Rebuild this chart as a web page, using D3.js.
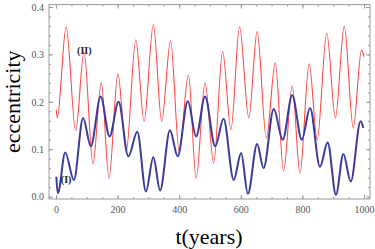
<!DOCTYPE html>
<html>
<head>
<meta charset="utf-8">
<script src="https://cdn.jsdelivr.net/npm/d3@7"></script>
<style>
  body { margin: 0; background: #fff; }
  svg { display: block; }
  .tick text { font-family: "Liberation Serif", "DejaVu Serif", serif; font-size: 10px; fill: #555; }
</style>
</head>
<body>
<svg id="chart" width="375" height="249"></svg>
<script>
// extrema: [t (years), eccentricity]
const seriesII = [
  [1, 0.183], [4, 0.166], [33, 0.358], [64, 0.139], [91, 0.306], [120, 0.069],
  [147, 0.24], [172, 0.039], [201, 0.259], [228, 0.095], [259, 0.331], [286, 0.159],
  [316, 0.363], [343, 0.159], [372, 0.328], [400, 0.095], [430, 0.257], [455, 0.039],
  [484, 0.24], [512, 0.071], [541, 0.306], [568, 0.141], [596, 0.358], [626, 0.166],
  [653, 0.348], [683, 0.123], [712, 0.282], [739, 0.053], [767, 0.234], [792, 0.049],
  [822, 0.28], [848, 0.12], [879, 0.345], [907, 0.166], [936, 0.359], [965, 0.145],
  [992, 0.309], [1000, 0.295]
];
const seriesI = [
  [1, 0.042], [6, 0.007], [30, 0.093], [58, 0.035], [88, 0.166], [113, 0.106],
  [145, 0.211], [174, 0.127], [203, 0.2], [235, 0.085], [264, 0.137], [292, 0.011],
  [316, 0.083], [338, 0.013], [370, 0.14], [395, 0.085], [428, 0.201], [455, 0.127],
  [484, 0.211], [517, 0.106], [544, 0.164], [577, 0.035], [601, 0.092], [623, 0.006],
  [653, 0.111], [674, 0.06], [707, 0.185], [736, 0.12], [767, 0.214], [798, 0.12],
  [825, 0.187], [857, 0.063], [882, 0.114], [909, 0.004], [933, 0.09], [957, 0.032],
  [989, 0.159], [998, 0.145]
];
const xTicks = [0, 200, 400, 600, 800, 1000];
const yTicks = [0.0, 0.1, 0.2, 0.3, 0.4];
const xMinor = d3.range(0, 1001, 50);
const yMinor = d3.range(0, 0.401, 0.02);

const svg = d3.select("#chart");
const pLeft = 49, pRight = 370, pTop = 4.6, pBottom = 199;

const x = d3.scaleLinear().domain([-22.7, 1019.5]).range([pLeft, pRight]);
const y = d3.scaleLinear().domain([-0.005, 0.405]).range([pBottom, pTop]);

// frame
svg.append("rect")
    .attr("x", pLeft).attr("y", pTop)
    .attr("width", pRight - pLeft).attr("height", pBottom - pTop)
    .attr("fill", "none").attr("stroke", "#999").attr("stroke-width", 1);

// ticks (inward, all four sides)
function ticks(axis, pos, vals, size, labels) {
  const g = svg.append("g").attr("transform", pos).call(axis.tickValues(vals).tickSize(size).tickSizeOuter(0));
  g.select(".domain").remove();
  g.selectAll(".tick line").attr("stroke", "#999");
  if (!labels) g.selectAll(".tick text").remove();
  return g;
}
const fmtY = d3.format(".1f");
const fmtX = d3.format("d");
ticks(d3.axisBottom(x), `translate(0,${pBottom})`, xMinor, -2, false);
ticks(d3.axisBottom(x).tickFormat(fmtX), `translate(0,${pBottom})`, xTicks, -4, true)
    .selectAll(".tick text").attr("dy", "1.05em");
ticks(d3.axisTop(x), `translate(0,${pTop})`, xMinor, -2, false);
ticks(d3.axisTop(x), `translate(0,${pTop})`, xTicks, -4, false);
ticks(d3.axisLeft(y), `translate(${pLeft},0)`, yMinor, -2, false);
ticks(d3.axisLeft(y).tickFormat(fmtY), `translate(${pLeft},0)`, yTicks, -4, true)
    .selectAll(".tick text").attr("x", -5);
ticks(d3.axisRight(y), `translate(${pRight},0)`, yMinor, -2, false);
ticks(d3.axisRight(y), `translate(${pRight},0)`, yTicks, -4, false);

const line = d3.line()
    .x(d => x(d[0]))
    .y(d => y(d[1]))
    .curve(d3.curveMonotoneX);

svg.append("path")
    .attr("d", line(seriesII))
    .attr("fill", "none").attr("stroke", "#ff4a4a").attr("stroke-width", 1.1);

svg.append("path")
    .attr("d", line(seriesI))
    .attr("fill", "none").attr("stroke", "#3b3b9c").attr("stroke-width", 2);

// curve labels
svg.append("text")
    .attr("x", x(92)).attr("y", y(0.3))
    .attr("text-anchor", "middle")
    .attr("font-family", "Liberation Serif, serif").attr("font-size", 10).attr("font-weight", "bold")
    .attr("fill", "#222")
    .text("(II)");
svg.append("text")
    .attr("x", x(33)).attr("y", y(0.028))
    .attr("text-anchor", "middle")
    .attr("font-family", "Liberation Serif, serif").attr("font-size", 10).attr("font-weight", "bold")
    .attr("fill", "#222")
    .text("(I)");

// axis titles
svg.append("text")
    .attr("transform", `translate(20,${(pTop + pBottom) / 2}) rotate(-90)`)
    .attr("text-anchor", "middle")
    .attr("font-family", "Liberation Serif, serif").attr("font-size", 22)
    .text("eccentricity");
svg.append("text")
    .attr("x", 209).attr("y", 244)
    .attr("text-anchor", "middle")
    .attr("font-family", "Liberation Serif, serif").attr("font-size", 22)
    .text("t(years)");
</script>
</body>
</html>
